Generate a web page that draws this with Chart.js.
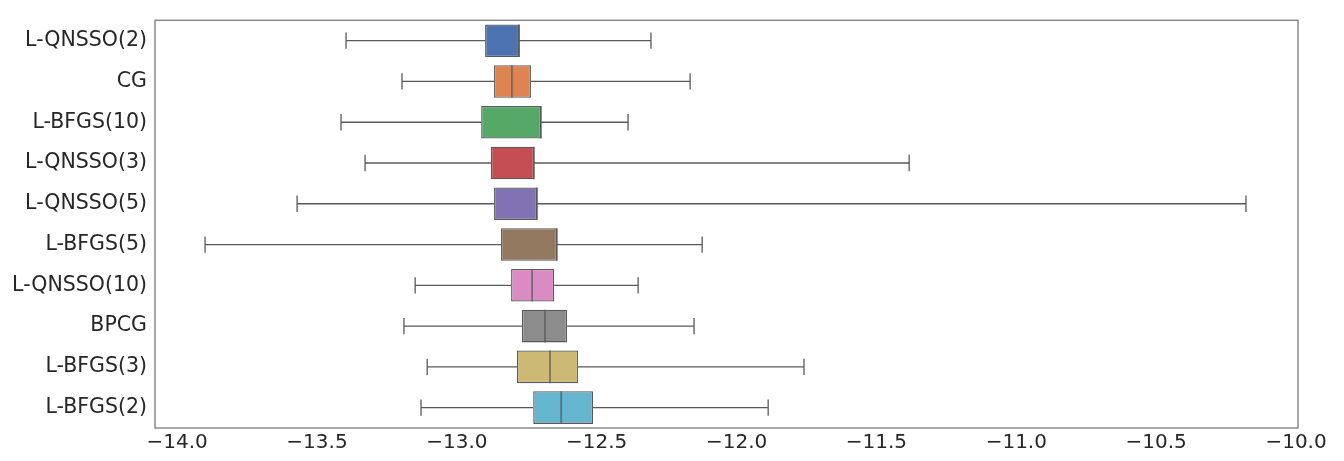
<!DOCTYPE html>
<html>
<head>
<meta charset="utf-8">
<script src="https://cdn.jsdelivr.net/npm/chart.js@4.4.1/dist/chart.umd.min.js"></script>
<style>
  html, body { margin: 0; padding: 0; background: #ffffff; }
  #wrap { width: 1344px; height: 461px; position: relative; }
</style>
</head>
<body>
<div id="wrap"><canvas id="c"></canvas></div>
<script>
// Solver names, top to bottom
const methods = ['L-QNSSO(2)', 'CG', 'L-BFGS(10)', 'L-QNSSO(3)', 'L-QNSSO(5)',
                 'L-BFGS(5)', 'L-QNSSO(10)', 'BPCG', 'L-BFGS(3)', 'L-BFGS(2)'];

// Five-number summaries (log10 of the residual)
const whiskerLow  = [-13.396, -13.196, -13.414, -13.328, -13.571, -13.900, -13.149, -13.189, -13.106, -13.128];
const q1          = [-12.899, -12.867, -12.913, -12.878, -12.867, -12.842, -12.806, -12.767, -12.785, -12.727];
const median      = [-12.777, -12.803, -12.699, -12.724, -12.713, -12.642, -12.731, -12.685, -12.667, -12.627];
const q3          = [-12.777, -12.735, -12.699, -12.724, -12.713, -12.642, -12.652, -12.606, -12.567, -12.513];
const whiskerHigh = [-12.306, -12.166, -12.388, -11.383, -10.179, -12.123, -12.352, -12.152, -11.759, -11.887];

// Axis limits and ticks
const xMin = -14.079;
const xMax = -9.993;
const xTicks = [-14.0, -13.5, -13.0, -12.5, -12.0, -11.5, -11.0, -10.5, -10.0];

const boxColors = ['#4c72b0', '#dd8452', '#55a868', '#c44e52', '#8172b3',
                   '#937860', '#da8bc3', '#8c8c8c', '#ccb974', '#64b5cd'];
const lineColor = '#595959';
const fontFamily = '"DejaVu Sans", Verdana, sans-serif';

// Whiskers, caps and medians drawn from the bar elements and the x scale
const boxPlotLines = {
  id: 'boxPlotLines',
  beforeDatasetsDraw(chart) {
    const { ctx, scales: { x } } = chart;
    const meta = chart.getDatasetMeta(0);
    ctx.save();
    ctx.strokeStyle = lineColor;
    ctx.lineWidth = 1.3;
    meta.data.forEach((bar, i) => {
      const { y, height } = bar.getProps(['y', 'height'], true);
      const cap = height * 0.25;
      const xl = x.getPixelForValue(whiskerLow[i]);
      const xh = x.getPixelForValue(whiskerHigh[i]);
      const xa = x.getPixelForValue(q1[i]);
      const xb = x.getPixelForValue(q3[i]);
      ctx.beginPath();
      ctx.moveTo(xl, y); ctx.lineTo(xa, y);
      ctx.moveTo(xb, y); ctx.lineTo(xh, y);
      ctx.moveTo(xl, y - cap); ctx.lineTo(xl, y + cap);
      ctx.moveTo(xh, y - cap); ctx.lineTo(xh, y + cap);
      ctx.stroke();
    });
    ctx.restore();
  },
  afterDatasetsDraw(chart) {
    const { ctx, scales: { x }, chartArea } = chart;
    const meta = chart.getDatasetMeta(0);
    ctx.save();
    ctx.strokeStyle = lineColor;
    ctx.lineWidth = 1.3;
    meta.data.forEach((bar, i) => {
      const { y, height } = bar.getProps(['y', 'height'], true);
      const xm = x.getPixelForValue(median[i]);
      ctx.beginPath();
      ctx.moveTo(xm, y - height / 2);
      ctx.lineTo(xm, y + height / 2);
      ctx.stroke();
    });
    // axes frame
    ctx.strokeStyle = '#8a8a8a';
    ctx.lineWidth = 1.5;
    ctx.strokeRect(chartArea.left, chartArea.top,
                   chartArea.right - chartArea.left, chartArea.bottom - chartArea.top);
    ctx.restore();
  }
};

new Chart(document.getElementById('c'), {
  type: 'bar',
  data: {
    labels: methods,
    datasets: [{
      data: methods.map((m, i) => [q1[i], q3[i]]),
      backgroundColor: boxColors,
      borderColor: lineColor,
      borderWidth: 1.3,
      borderSkipped: false,
      barPercentage: 0.8,
      categoryPercentage: 1.0
    }]
  },
  options: {
    indexAxis: 'y',
    responsive: true,
    maintainAspectRatio: false,
    animation: false,
    layout: { padding: { top: 10, right: 46, left: 0, bottom: 0 } },
    plugins: { legend: { display: false }, tooltip: { enabled: false } },
    scales: {
      x: {
        type: 'linear',
        min: xMin,
        max: xMax,
        afterBuildTicks: (scale) => { scale.ticks = xTicks.map(v => ({ value: v })); },
        afterFit: (scale) => { scale.height = 33; },
        grid: { display: false, drawTicks: false },
        border: { display: false },
        ticks: {
          autoSkip: false,
          maxRotation: 0,
          padding: 3,
          color: '#262626',
          font: { family: fontFamily, size: 20 },
          callback: (v) => Number(v).toFixed(1).replace('-', '\u2212')
        }
      },
      y: {
        type: 'category',
        afterFit: (scale) => { scale.width = 155; },
        grid: { display: false, drawTicks: false },
        border: { display: false },
        ticks: {
          padding: 8,
          color: '#262626',
          font: { family: fontFamily, size: 20.5 }
        }
      }
    }
  },
  plugins: [boxPlotLines]
});
</script>
</body>
</html>
